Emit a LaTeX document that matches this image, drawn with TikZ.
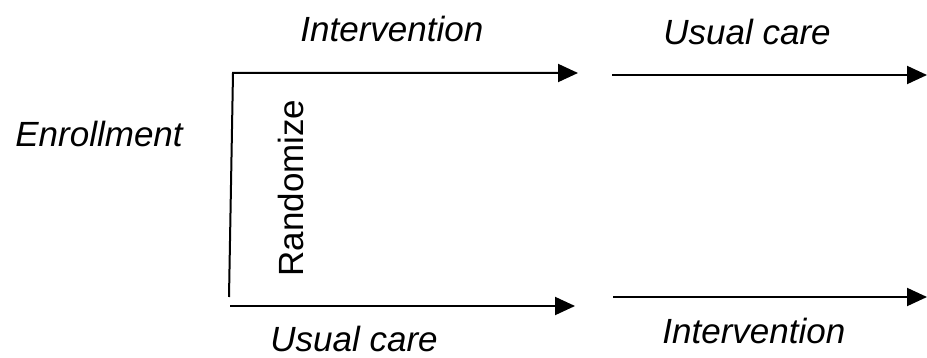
\documentclass[tikz,border=0pt]{standalone}
\usepackage{fontspec}
\setmainfont{Liberation Sans}
\usetikzlibrary{arrows.meta}

\tikzset{
  arm/.style={line width=1pt, -{Triangle[length=10pt,width=9pt]}},
  armlabel/.style={anchor=base west, inner sep=0pt, font=\fontsize{17.5}{20}\selectfont\itshape},
}

\begin{document}
\begin{tikzpicture}[x=0.5pt,y=-0.5pt]
  \useasboundingbox (0,0) rectangle (927,358);

  % Arm end points
  \coordinate (rand bottom) at (229,297);
  \coordinate (rand top) at (233,73);
  \coordinate (top mid) at (578,73);
  \coordinate (top start) at (612,75);
  \coordinate (top end) at (927,75);
  \coordinate (bot start) at (230,306);
  \coordinate (bot mid) at (575,306);
  \coordinate (bot start2) at (613,297);
  \coordinate (bot end) at (927,297);

  % Labels
  \node[armlabel] (enroll) at (15,147) {Enrollment};
  \node[armlabel] (int1) at (300,42) {Intervention};
  \node[armlabel] (usual1) at (663,45) {Usual care};
  \node[armlabel] (usual2) at (270,351) {Usual care};
  \node[armlabel] (int2) at (662,343) {Intervention};
  \node[armlabel, font=\fontsize{17.5}{20}\selectfont, rotate=90] (rand) at (303,277) {Randomize};

  % Top arm: intervention, then usual care
  \draw[arm] (rand bottom) -- (rand top) -- (top mid);
  \draw[arm] (top start) -- (top end);

  % Bottom arm: usual care, then intervention
  \draw[arm] (bot start) -- (bot mid);
  \draw[arm] (bot start2) -- (bot end);
\end{tikzpicture}
\end{document}
